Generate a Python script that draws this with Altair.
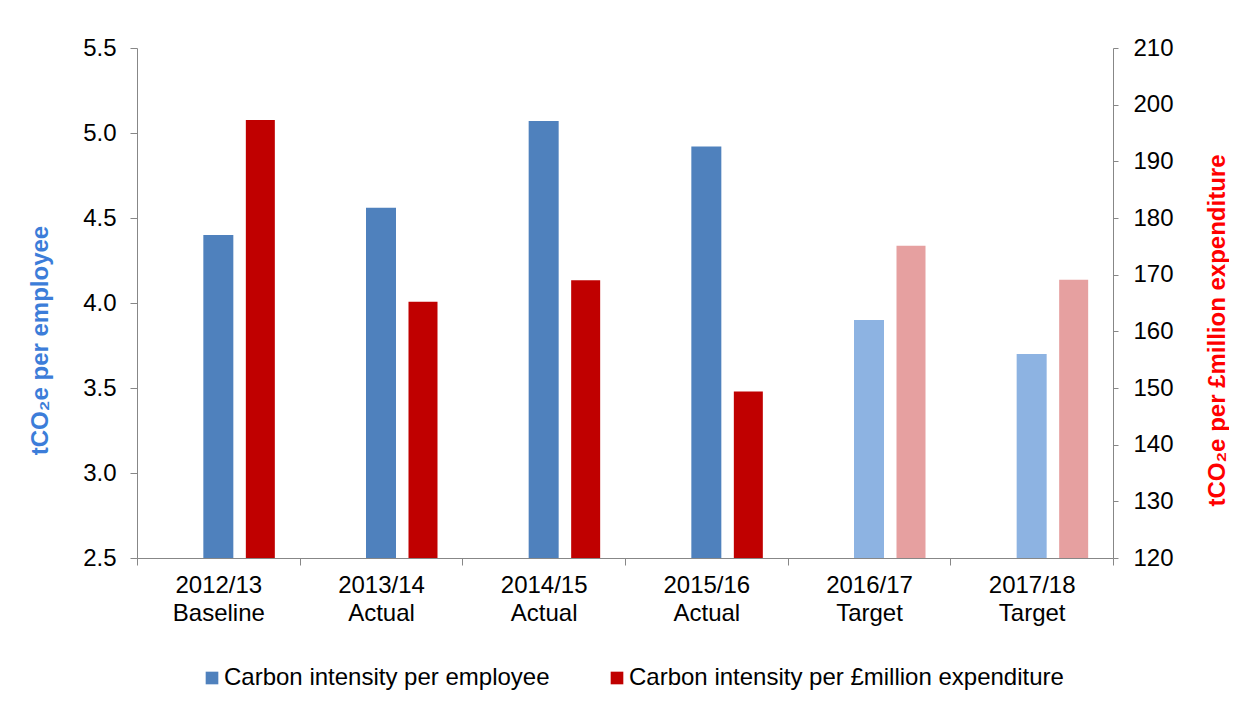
import altair as alt
import pandas as pd

# ---- data ----
years = ["2012/13", "2013/14", "2014/15", "2015/16", "2016/17", "2017/18"]
stages = ["Baseline", "Actual", "Actual", "Actual", "Target", "Target"]
per_employee = [4.40, 4.56, 5.07, 4.92, 3.90, 3.70]          # tCO2e per employee (left axis)
per_million = [197.3, 165.2, 169.0, 149.4, 175.1, 169.1]      # tCO2e per £million expenditure (right axis)
left_ticks = [2.5, 3.0, 3.5, 4.0, 4.5, 5.0, 5.5]
right_ticks = [120, 130, 140, 150, 160, 170, 180, 190, 200, 210]
series_names = ["Carbon intensity per employee", "Carbon intensity per £million expenditure"]

# ---- styles ----
actual_colors = ["#4F81BD", "#C00000"]
target_colors = ["#8DB3E2", "#E6A0A0"]
GREY = "#878787"
FONT = "Liberation Sans, Arial, sans-serif"

categories = [f"{y} {s}" for y, s in zip(years, stages)]
df = pd.DataFrame({
    "category": categories,
    "stage": stages,
    "emp": per_employee,
    "exp": per_million,
    "emp_color": [target_colors[0] if s == "Target" else actual_colors[0] for s in stages],
    "exp_color": [target_colors[1] if s == "Target" else actual_colors[1] for s in stages],
})

W, H = 976, 510

x_enc = alt.X(
    "category:N",
    sort=categories,
    scale=alt.Scale(paddingInner=0, paddingOuter=0),
    axis=alt.Axis(
        title=None,
        labelExpr="split(datum.label, ' ')",
        labelAngle=0,
        labelFontSize=24,
        labelColor="black",
        labelPadding=8,
        labelLineHeight=28,
        labelBaseline="top",
        tickBand="extent",
        tickSize=7,
        tickColor=GREY,
        domainColor=GREY,
        grid=False,
    ),
)

blue = alt.Chart(df).mark_bar(width=30).encode(
    x=x_enc,
    y=alt.Y(
        "emp:Q",
        scale=alt.Scale(domain=[2.5, 5.5], nice=False, zero=False),
        axis=alt.Axis(
            orient="left",
            values=left_ticks,
            format=".1f",
            title="tCO₂e per employee",
            titleColor="#3C7DD9",
            titleFontSize=24,
            titleFontWeight="bold",
            titleAngle=270,
            titleAlign="center",
            titleBaseline="middle",
            titleX=-97,
            titleY=292,
            labelFontSize=24,
            labelColor="black",
            labelPadding=14,
            tickSize=7,
            tickColor=GREY,
            domainColor=GREY,
            grid=False,
        ),
    ),
    y2=alt.datum(2.5),
    color=alt.Color("emp_color:N", scale=None),
)

red = alt.Chart(df).mark_bar(width=29, xOffset=42).encode(
    x=x_enc,
    y=alt.Y(
        "exp:Q",
        scale=alt.Scale(domain=[120, 210], nice=False, zero=False),
        axis=alt.Axis(
            orient="right",
            values=right_ticks,
            format="d",
            title="tCO₂e per £million expenditure",
            titleColor="#FF0000",
            titleFontSize=24,
            titleFontWeight="bold",
            titleAngle=270,
            titleAlign="center",
            titleBaseline="middle",
            titleX=104,
            titleY=282,
            labelFontSize=24,
            labelColor="black",
            labelPadding=15,
            tickSize=5,
            tickColor=GREY,
            domainColor=GREY,
            grid=False,
        ),
    ),
    y2=alt.datum(120),
    color=alt.Color("exp_color:N", scale=None),
)

legend_df = pd.DataFrame({"series": series_names})
legend_layer = alt.Chart(legend_df).mark_square(opacity=0).encode(
    x=alt.value(0),
    y=alt.value(0),
    color=alt.Color(
        "series:N",
        sort=series_names,
        scale=alt.Scale(domain=series_names, range=actual_colors),
        legend=alt.Legend(
            title=None,
            orient="none",
            direction="horizontal",
            legendX=63,
            legendY=618,
            symbolType="square",
            symbolSize=160,
            symbolOpacity=1,
            symbolStrokeWidth=0,
            labelFontSize=24,
            labelColor="black",
            labelOffset=0,
            columnPadding=55,
            padding=0,
            labelLimit=600,
        ),
    ),
)

chart = (
    alt.layer(blue, red, legend_layer)
    .resolve_scale(y="independent", color="independent")
    .properties(
        width=W,
        height=H,
        padding={"left": 129, "top": 40, "right": 116, "bottom": 134},
        autosize=alt.AutoSizeParams(type="none"),
        background="white",
    )
    .configure_view(stroke=None)
    .configure_axis(labelFont=FONT, titleFont=FONT)
    .configure_legend(labelFont=FONT)
)

chart.save("out.html", embed_options={"renderer": "svg", "actions": False})
